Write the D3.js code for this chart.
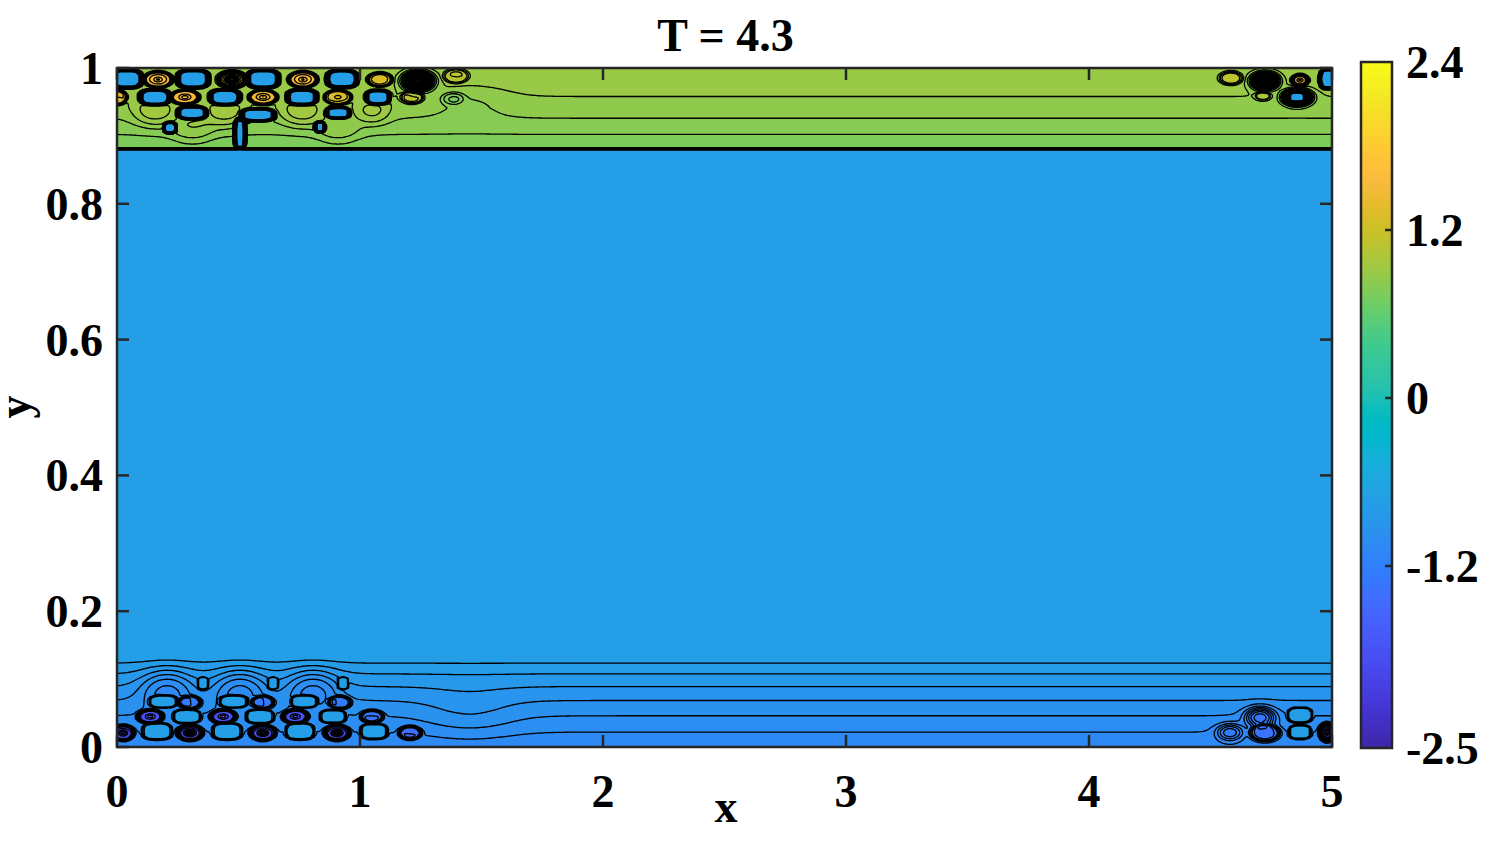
<!DOCTYPE html>
<html><head><meta charset="utf-8">
<script src="https://cdn.jsdelivr.net/npm/d3@7"></script>
<style>
body{margin:0;background:#fff}
text{font-family:"Liberation Serif","Times New Roman",serif;font-weight:bold;fill:#000}
</style>
</head><body>
<svg id="chart" width="1495" height="841"></svg>
<script>
// ---------------- data ----------------
const titleText = "T = 4.3";
const xLabel = "x", yLabel = "y";
const xTicks = [0, 1, 2, 3, 4, 5];
const xTickLabels = ["0", "1", "2", "3", "4", "5"];
const yTicks = [0, 0.2, 0.4, 0.6, 0.8, 1];
const yTickLabels = ["0", "0.2", "0.4", "0.6", "0.8", "1"];
const cbTicks = [-2.5, -1.2, 0, 1.2, 2.4];
const cbTickLabels = ["-2.5", "-1.2", "0", "1.2", "2.4"];
const cLim = [-2.5, 2.4];
const levelStep = 0.05;
const levelCount = 99;
const bulkValue = -0.72;

// y-profile of the field away from the vortices (top and bottom wall layers)
const topProfileY = [0.8805, 0.8815, 0.893, 0.916, 0.941, 0.975, 1.0];
const topProfileV = [-0.72, 0.77, 0.78, 0.83, 0.88, 0.92, 0.93];
const botProfileY = [0, 0.010, 0.034, 0.058, 0.079, 0.099, 0.1165, 0.132];
const botProfileV = [-1.04, -1.025, -0.975, -0.925, -0.875, -0.825, -0.775, -0.72];

// blue "holes" (regions carrying the bulk value)
const holeX  = [0.040, 0.313, 0.601, 0.926,  0.156, 0.444, 0.761, 1.074,  0.309, 0.580, 0.910,  0.218, 0.835, 0.506,  4.985, 4.856,
                0.165, 0.453, 0.753, 1.057,  0.288, 0.588, 0.889,  0.190, 0.480, 0.770,  0.354, 0.642, 0.930,  4.868, 4.868];
const holeY  = [0.984, 0.984, 0.984, 0.984,  0.957, 0.957, 0.957, 0.957,  0.934, 0.931, 0.934,  0.912, 0.913, 0.903,  0.984, 0.957,
                0.023, 0.023, 0.023, 0.023,  0.045, 0.045, 0.045,  0.067, 0.067, 0.067,  0.094, 0.094, 0.094,  0.047, 0.022];
const holeRx = [0.062, 0.064, 0.064, 0.062,  0.060, 0.060, 0.060, 0.048,  0.058, 0.068, 0.048,  0.025, 0.020, 0.022,  0.035, 0.035,
                0.060, 0.060, 0.058, 0.055,  0.056, 0.056, 0.052,  0.056, 0.056, 0.054,  0.022, 0.022, 0.022,  0.050, 0.045];
const holeRy = [0.0130, 0.0130, 0.0130, 0.0125, 0.011, 0.011, 0.011, 0.010, 0.009, 0.009, 0.008, 0.008, 0.0075, 0.022, 0.014, 0.007,
                0.012, 0.012, 0.012, 0.011,  0.0100, 0.0100, 0.0095, 0.0090, 0.0090, 0.0090, 0.009, 0.009, 0.009, 0.011, 0.010];

// eddies: centre, radii, plateau amplitude, edge softness, centre peak
const eddyX    = [0.169, 0.473, 0.765, 1.082, 1.239, 1.395,  0.000, 0.280, 0.601, 0.909, 1.214, 1.383,
                  0.156, 0.444, 0.761, 1.050,  0.310, 0.910, 1.450,
                  4.584, 4.724, 4.868, 4.716, 4.856,
                  0.025, 0.300, 0.600, 0.905, 1.206,  0.136, 0.436, 0.733, 1.049,  0.300, 0.600, 0.918,  0.206, 0.506, 0.807,
                  1.450, 4.704, 4.580, 4.724, 4.980];
const eddyY    = [0.983, 0.983, 0.983, 0.983, 0.981, 0.988,  0.957, 0.957, 0.957, 0.957, 0.957, 0.955,
                  0.934, 0.934, 0.934, 0.934,  0.908, 0.908, 0.950,
                  0.985, 0.981, 0.982, 0.959, 0.957,
                  0.021, 0.021, 0.021, 0.021, 0.021,  0.045, 0.045, 0.045, 0.045,  0.066, 0.066, 0.066,  0.085, 0.085, 0.085,
                  0.045, 0.044, 0.022, 0.021, 0.022];
const eddyRx   = [0.058, 0.056, 0.058, 0.050, 0.040, 0.050,  0.040, 0.058, 0.058, 0.055, 0.045, 0.040,
                  0.075, 0.075, 0.075, 0.060,  0.075, 0.075, 0.120,
                  0.045, 0.035, 0.033, 0.030, 0.040,
                  0.045, 0.052, 0.052, 0.052, 0.045,  0.052, 0.052, 0.052, 0.045,  0.045, 0.045, 0.045,  0.085, 0.085, 0.085,
                  0.150, 0.050, 0.045, 0.060, 0.030];
const eddyRy   = [0.0115, 0.0115, 0.0115, 0.010, 0.009, 0.010,  0.0105, 0.0105, 0.0105, 0.0105, 0.009, 0.008,
                  0.018, 0.018, 0.018, 0.015,  0.016, 0.016, 0.020,
                  0.009, 0.008, 0.008, 0.006, 0.008,
                  0.0110, 0.0110, 0.0110, 0.0110, 0.0095,  0.0100, 0.0100, 0.0100, 0.009,  0.009, 0.009, 0.009,  0.024, 0.024, 0.024,
                  0.030, 0.012, 0.010, 0.012, 0.012];
const eddyAmp  = [0.62, 0.62, 0.62, 0.38, -1.60, 0.18,  0.50, 0.62, 0.58, 0.40, 0.22, -0.12,
                  0.12, 0.12, 0.12, 0.10,  0.08, 0.08, -0.05,
                  0.22, -1.60, 0.60, 0.15, -1.60,
                  -0.80, -0.85, -0.80, -0.80, -0.40,  -0.80, -0.80, -0.80, -0.35,  -0.30, -0.30, -0.30,  -0.17, -0.17, -0.17,
                  0.05, -0.35, -0.25, -0.30, -0.80];
const eddySoft = [0.05, 0.08, 0.05, 0.06, 0.35, 0.10,  0.05, 0.05, 0.05, 0.05, 0.08, 0.20,
                  0.30, 0.30, 0.30, 0.30,  0.30, 0.30, 0.40,
                  0.12, 0.35, 0.08, 0.12, 0.30,
                  0.05, 0.05, 0.05, 0.05, 0.08,  0.05, 0.05, 0.05, 0.08,  0.08, 0.08, 0.08,  0.35, 0.35, 0.35,
                  0.40, 0.30, 0.30, 0.10, 0.10];
const eddyPeak = [0.12, 0.70, 0.12, 0.05, 0, 0,  0, 0.12, 0.12, 0.08, 0, 0,
                  0, 0, 0, 0,  0, 0, 0,
                  0, 0, 0.10, 0, 0,
                  -0.20, -0.40, -0.30, -0.35, 0,  -0.12, -0.12, -0.12, 0,  0, 0, 0,  0, 0, 0,
                  0, 0, 0, 0, -0.2];

// MATLAB parula colormap (64 entries)
const parula = [
[0.2422,0.1504,0.6603],[0.2504,0.1650,0.7076],[0.2578,0.1818,0.7511],[0.2647,0.1978,0.7952],[0.2706,0.2147,0.8364],
[0.2751,0.2342,0.8710],[0.2783,0.2559,0.8991],[0.2803,0.2782,0.9221],[0.2813,0.3006,0.9414],[0.2810,0.3228,0.9579],
[0.2795,0.3447,0.9717],[0.2760,0.3667,0.9829],[0.2699,0.3892,0.9906],[0.2602,0.4123,0.9952],[0.2440,0.4358,0.9988],
[0.2206,0.4603,0.9973],[0.1963,0.4847,0.9892],[0.1834,0.5074,0.9798],[0.1786,0.5289,0.9682],[0.1764,0.5499,0.9520],
[0.1687,0.5703,0.9359],[0.1540,0.5902,0.9218],[0.1460,0.6091,0.9079],[0.1380,0.6276,0.8973],[0.1248,0.6459,0.8883],
[0.1113,0.6635,0.8763],[0.0952,0.6798,0.8598],[0.0689,0.6948,0.8394],[0.0297,0.7082,0.8163],[0.0036,0.7203,0.7917],
[0.0067,0.7312,0.7660],[0.0433,0.7411,0.7394],[0.0964,0.7500,0.7120],[0.1408,0.7584,0.6842],[0.1717,0.7670,0.6554],
[0.1938,0.7758,0.6251],[0.2161,0.7843,0.5923],[0.2470,0.7918,0.5567],[0.2906,0.7973,0.5188],[0.3406,0.8008,0.4789],
[0.3909,0.8029,0.4354],[0.4456,0.8024,0.3909],[0.5044,0.7993,0.3480],[0.5616,0.7942,0.3045],[0.6174,0.7876,0.2612],
[0.6720,0.7793,0.2227],[0.7242,0.7698,0.1910],[0.7738,0.7598,0.1646],[0.8203,0.7498,0.1535],[0.8634,0.7406,0.1596],
[0.9035,0.7330,0.1774],[0.9393,0.7288,0.2100],[0.9728,0.7298,0.2394],[0.9956,0.7434,0.2371],[0.9970,0.7659,0.2199],
[0.9952,0.7893,0.2028],[0.9892,0.8136,0.1885],[0.9786,0.8386,0.1766],[0.9676,0.8639,0.1643],[0.9610,0.8890,0.1537],
[0.9597,0.9135,0.1423],[0.9628,0.9373,0.1265],[0.9691,0.9606,0.1064],[0.9769,0.9839,0.0805]];

// ---------------- layout ----------------
const plot = {left: 117, top: 68, width: 1215, height: 679};
const cb = {left: 1361, top: 62, width: 31, height: 686};
const axisColor = "#262626";

const svg = d3.select("#chart");
const xS = d3.scaleLinear().domain([0, 5]).range([plot.left, plot.left + plot.width]);
const yS = d3.scaleLinear().domain([0, 1]).range([plot.top + plot.height, plot.top]);
const cS = d3.scaleLinear().domain(cLim).range([cb.top + cb.height, cb.top]);

const parulaInterp = d3.interpolateRgbBasis(parula.map(c => d3.rgb(c[0]*255, c[1]*255, c[2]*255)));
const cmap = d3.scaleSequential(parulaInterp).domain(cLim);

// ---------------- field ----------------
const profTop = d3.scaleLinear().domain(topProfileY).range(topProfileV).clamp(true);
const profBot = d3.scaleLinear().domain(botProfileY).range(botProfileV).clamp(true);
function field(x, y) {
  let f = y > 0.5 ? profTop(y) : profBot(y);
  for (let k = 0; k < eddyX.length; k++) {
    const dx = (x - eddyX[k]) / eddyRx[k], dy = (y - eddyY[k]) / eddyRy[k];
    if (Math.abs(dx) > 4 || Math.abs(dy) > 4) continue;
    const r = Math.sqrt(dx*dx + dy*dy);
    f += eddyAmp[k] / (1 + Math.exp((r - 1) / eddySoft[k])) + eddyPeak[k] * Math.exp(-r*r / 0.12);
  }
  let H = 0;
  for (let k = 0; k < holeX.length; k++) {
    const dx = Math.abs(x - holeX[k]) / holeRx[k], dy = Math.abs(y - holeY[k]) / holeRy[k];
    if (dx > 2 || dy > 2) continue;
    const r = Math.pow(Math.pow(dx, 3) + Math.pow(dy, 3), 1/3);
    const h = 1 / (1 + Math.exp((r - 1) / 0.035));
    if (h > H) H = h;
  }
  return f + (bulkValue - f) * H;
}

const stepX = 2, stepY = 1, pad = 2;
const nx = Math.ceil(plot.width / stepX) + 1 + 2*pad;
const ny = Math.ceil(plot.height / stepY) + 1 + 2*pad;
const values = new Float64Array(nx * ny);
for (let j = 0; j < ny; j++) {
  const yy = yS.invert(plot.top + (j - pad) * stepY);
  for (let i = 0; i < nx; i++) {
    const xx = xS.invert(plot.left + (i - pad) * stepX);
    values[j*nx + i] = field(xx, yy);
  }
}
const levels = d3.range(levelCount).map(k => +(cLim[0] + k * levelStep).toFixed(3));
const contours = d3.contours().size([nx, ny]).thresholds(levels)(values);
const proj = d3.geoTransform({point(gx, gy) {
  this.stream.point(plot.left + (gx - pad - 0.5) * stepX, plot.top + (gy - pad - 0.5) * stepY);
}});
const path = d3.geoPath(proj);

svg.append("clipPath").attr("id", "clip").append("rect")
  .attr("x", plot.left).attr("y", plot.top).attr("width", plot.width).attr("height", plot.height);

const gPlot = svg.append("g").attr("clip-path", "url(#clip)");
gPlot.append("rect").attr("x", plot.left).attr("y", plot.top).attr("width", plot.width).attr("height", plot.height)
  .attr("fill", cmap(bulkValue));
gPlot.append("g").selectAll("path").data(contours).join("path")
  .attr("d", path).attr("fill", d => cmap(d.value)).attr("stroke", "none");
gPlot.append("g").selectAll("path").data(contours).join("path")
  .attr("d", path).attr("fill", "none").attr("stroke", "#000").attr("stroke-width", 1.3);

// ---------------- axes ----------------
const tickLen = 12;
const gAx = svg.append("g");
gAx.selectAll("line.xb").data(xTicks).join("line")
  .attr("x1", d => xS(d)).attr("x2", d => xS(d))
  .attr("y1", plot.top + plot.height).attr("y2", plot.top + plot.height - tickLen)
  .attr("stroke", axisColor).attr("stroke-width", 2.5);
gAx.selectAll("line.xt").data(xTicks).join("line")
  .attr("x1", d => xS(d)).attr("x2", d => xS(d))
  .attr("y1", plot.top).attr("y2", plot.top + tickLen)
  .attr("stroke", axisColor).attr("stroke-width", 2.5);
gAx.selectAll("line.yl").data(yTicks).join("line")
  .attr("y1", d => yS(d)).attr("y2", d => yS(d))
  .attr("x1", plot.left).attr("x2", plot.left + tickLen)
  .attr("stroke", axisColor).attr("stroke-width", 2.5);
gAx.selectAll("line.yr").data(yTicks).join("line")
  .attr("y1", d => yS(d)).attr("y2", d => yS(d))
  .attr("x1", plot.left + plot.width).attr("x2", plot.left + plot.width - tickLen)
  .attr("stroke", axisColor).attr("stroke-width", 2.5);
gAx.append("rect").attr("x", plot.left).attr("y", plot.top).attr("width", plot.width).attr("height", plot.height)
  .attr("fill", "none").attr("stroke", axisColor).attr("stroke-width", 2.5);

gAx.selectAll("text.xl").data(xTicks).join("text")
  .attr("x", d => xS(d)).attr("y", plot.top + plot.height + 60)
  .attr("text-anchor", "middle").attr("font-size", 46).text((d, i) => xTickLabels[i]);
gAx.selectAll("text.yl").data(yTicks).join("text")
  .attr("x", plot.left - 14).attr("y", d => yS(d) + 16)
  .attr("text-anchor", "end").attr("font-size", 46).text((d, i) => yTickLabels[i]);

svg.append("text").attr("x", plot.left + plot.width/2 + 1).attr("y", 51)
  .attr("text-anchor", "middle").attr("font-size", 46).text(titleText);
svg.append("text").attr("x", 726).attr("y", 822)
  .attr("text-anchor", "middle").attr("font-size", 46).text(xLabel);
svg.append("text").attr("transform", "translate(30,407) rotate(-90)")
  .attr("text-anchor", "middle").attr("font-size", 46).text(yLabel);

// ---------------- colorbar ----------------
const grad = svg.append("defs").append("linearGradient").attr("id", "cbgrad")
  .attr("x1", 0).attr("y1", 1).attr("x2", 0).attr("y2", 0);
grad.selectAll("stop").data(parula).join("stop")
  .attr("offset", (d, i) => i / (parula.length - 1))
  .attr("stop-color", d => d3.rgb(d[0]*255, d[1]*255, d[2]*255));
svg.append("rect").attr("x", cb.left).attr("y", cb.top).attr("width", cb.width).attr("height", cb.height)
  .attr("fill", "url(#cbgrad)").attr("stroke", axisColor).attr("stroke-width", 2.5);
svg.append("g").selectAll("line").data(cbTicks.slice(1, -1)).join("line")
  .attr("x1", cb.left + cb.width).attr("x2", cb.left + cb.width - 7)
  .attr("y1", d => cS(d)).attr("y2", d => cS(d))
  .attr("stroke", axisColor).attr("stroke-width", 2.5);
svg.append("g").selectAll("text").data(cbTicks).join("text")
  .attr("x", 1406).attr("y", d => cS(d) + 16)
  .attr("font-size", 46).text((d, i) => cbTickLabels[i]);
</script>
</body></html>
